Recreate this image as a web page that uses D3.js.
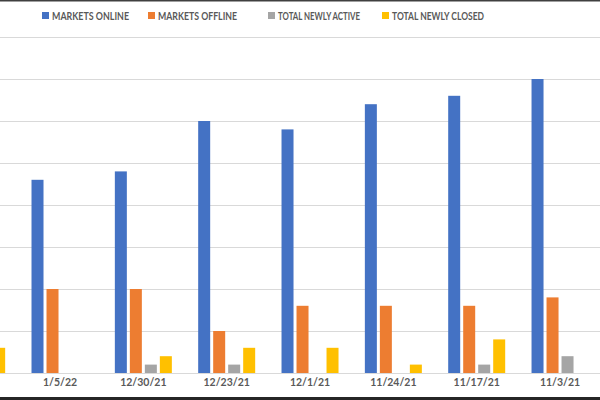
<!DOCTYPE html>
<html>
<head>
<meta charset="utf-8">
<script src="https://cdn.jsdelivr.net/npm/d3@7"></script>
<style>
  body { margin: 0; background: #fff; }
  svg { display: block; font-family: Lato, "Open Sans", sans-serif; }
</style>
</head>
<body>
<svg id="chart" width="600" height="400"></svg>
<script>
// ========== DATA ==========
// first week is cut off at the left edge of the picture
const weeks = ["1/12/22", "1/5/22", "12/30/21", "12/23/21", "12/1/21", "11/24/21", "11/17/21", "11/3/21"];
const series = ["MARKETS ONLINE", "MARKETS OFFLINE", "TOTAL NEWLY ACTIVE", "TOTAL NEWLY CLOSED"];
const colors = ["#4472C4", "#ED7D31", "#A5A5A5", "#FFC000"];

const marketsOnline  = [22, 23, 24, 30, 29, 32, 33, 35];
const marketsOffline = [10, 10, 10, 5, 8, 8, 8, 9];
const newlyActive    = [0, 0, 1, 1, 0, 0, 1, 2];
const newlyClosed    = [3, 0, 2, 3, 3, 1, 4, 0];
const yTicks = [0, 5, 10, 15, 20, 25, 30, 35, 40];

const values = [marketsOnline, marketsOffline, newlyActive, newlyClosed];
const rows = weeks.map((w, i) => ({ week: w, vals: values.map(s => s[i]) }));

// ========== SCALES ==========
const svg = d3.select("#chart");
const W = 600;

const x0 = d3.scaleBand().domain(weeks).range([-65, 601.7]).padding(0);
const x1 = d3.scaleBand().domain(series).range([0, 57]).paddingInner(0.2);
const y = d3.scaleLinear().domain([0, 40]).range([373, 37]);

// ========== GRID ==========
svg.append("g")
  .call(d3.axisLeft(y).tickValues(yTicks).tickSize(-W).tickFormat(""))
  .call(g => g.select(".domain").remove())
  .call(g => g.selectAll("line").attr("stroke", "#d9d9d9").attr("stroke-width", 1));

// ========== BARS ==========
const groups = svg.append("g")
  .selectAll("g")
  .data(rows)
  .join("g")
  .attr("transform", d => `translate(${x0(d.week) + (x0.bandwidth() - 57) / 2},0)`);

groups.selectAll("rect")
  .data(d => d.vals.map((v, k) => ({ key: series[k], v, k })))
  .join("rect")
  .attr("x", d => x1(d.key))
  .attr("width", x1.bandwidth())
  .attr("y", d => y(d.v))
  .attr("height", d => y(0) - y(d.v))
  .attr("fill", d => colors[d.k]);

// ========== X LABELS ==========
const xAxis = svg.append("g")
  .attr("transform", `translate(0,${y(0)})`)
  .call(d3.axisBottom(x0).tickSize(0).tickPadding(6).tickValues(weeks.slice(1)));
xAxis.select(".domain").remove();
xAxis.selectAll("text")
  .attr("fill", "#595959")
  .style("font-size", "10.5px")
  .style("font-weight", "bold")
  .style("font-family", "Lato, 'Open Sans', sans-serif");

// ========== LEGEND ==========
const legendX = [42, 148, 268, 382];
const legendW = [77, 79, 82, 92]; // text widths as drawn in the original (narrow face)
const legend = svg.append("g")
  .selectAll("g")
  .data(series)
  .join("g")
  .attr("transform", (d, i) => `translate(${legendX[i]},16)`);

legend.append("rect")
  .attr("y", -4)
  .attr("width", 7)
  .attr("height", 7)
  .attr("fill", (d, i) => colors[i]);

legend.append("text")
  .attr("x", 10)
  .attr("dy", "0.35em")
  .attr("fill", "#595959")
  .attr("textLength", (d, i) => legendW[i])
  .attr("lengthAdjust", "spacingAndGlyphs")
  .style("font-size", "11px")
  .style("font-weight", "bold")
  .text(d => d);

// ========== FRAME ==========
svg.append("rect").attr("x", 0).attr("y", 0).attr("width", W).attr("height", 1.5).attr("fill", "#404040");
svg.append("rect").attr("x", 0).attr("y", 397).attr("width", W).attr("height", 3).attr("fill", "#262626");
</script>
</body>
</html>
